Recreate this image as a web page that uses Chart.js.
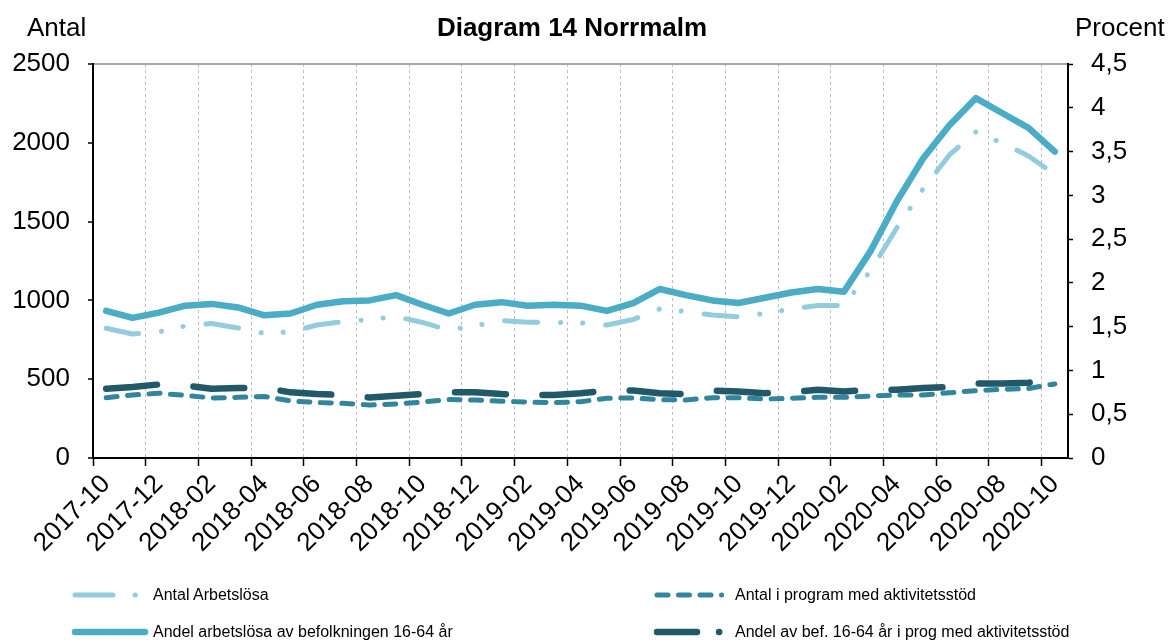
<!DOCTYPE html>
<html>
<head>
<meta charset="utf-8">
<script src="https://cdn.jsdelivr.net/npm/chart.js@4.4.1/dist/chart.umd.min.js"></script>
<style>
  html, body { margin: 0; padding: 0; background: #ffffff; }
  #wrap { position: relative; width: 1170px; height: 643px; font-family: "Liberation Sans", Arial, sans-serif; color: #000; }
  #chart { position: absolute; left: 0; top: 0; }
  .txt { position: absolute; white-space: nowrap; }
  #title { left: 322px; width: 500px; top: 11px; text-align: center; font-weight: bold; font-size: 26px; line-height: 32px; }
  #ylab { left: 27px; top: 11px; font-size: 26px; line-height: 32px; }
  #y1lab { left: 1075px; top: 11px; font-size: 26px; line-height: 32px; }
  .leg { position: absolute; height: 20px; display: flex; align-items: center; font-size: 16px; }
  .leg svg { display: block; }
</style>
</head>
<body>
<div id="wrap">
  <canvas id="chart" width="1170" height="643"></canvas>
  <div class="txt" id="title">Diagram 14 Norrmalm</div>
  <div class="txt" id="ylab">Antal</div>
  <div class="txt" id="y1lab">Procent</div>
</div>
<script>
// ---- data ----
const categories = [
  '2017-10','2017-11','2017-12','2018-01','2018-02','2018-03','2018-04','2018-05','2018-06','2018-07',
  '2018-08','2018-09','2018-10','2018-11','2018-12','2019-01','2019-02','2019-03','2019-04','2019-05',
  '2019-06','2019-07','2019-08','2019-09','2019-10','2019-11','2019-12','2020-01','2020-02','2020-03',
  '2020-04','2020-05','2020-06','2020-07','2020-08','2020-09','2020-10'
];
const antalArbetslosa = [
  823, 787, 800, 838, 853, 825, 791, 800, 844, 865,
  879, 898, 860, 812, 838, 872, 861, 861, 857, 844,
  879, 945, 930, 907, 895, 918, 945, 968, 968, 1187,
  1459, 1707, 1923, 2068, 1999, 1916, 1800
];
const antalProgram = [
  383, 400, 411, 397, 381, 385, 390, 362, 352, 347,
  336, 343, 355, 371, 368, 360, 355, 351, 357, 379,
  381, 370, 368, 383, 382, 374, 379, 385, 385, 393,
  400, 400, 414, 427, 436, 441, 470
];
const andelArbetslosa = [
  1.68, 1.60, 1.66, 1.74, 1.76, 1.72, 1.63, 1.65, 1.75, 1.79,
  1.80, 1.86, 1.75, 1.65, 1.75, 1.78, 1.74, 1.75, 1.74, 1.68,
  1.77, 1.93, 1.86, 1.80, 1.77, 1.83, 1.89, 1.93, 1.90, 2.36,
  2.93, 3.42, 3.80, 4.11, 3.94, 3.77, 3.50
];
const andelProgram = [
  0.79, 0.81, 0.84, 0.83, 0.79, 0.80, 0.80, 0.75, 0.73, 0.72,
  0.69, 0.71, 0.73, 0.75, 0.75, 0.73, 0.72, 0.72, 0.74, 0.77,
  0.77, 0.74, 0.73, 0.77, 0.76, 0.74, 0.75, 0.78, 0.76, 0.78,
  0.78, 0.80, 0.81, 0.85, 0.85, 0.86, 0.89
];
const seriesLabels = [
  'Antal Arbetslösa',
  'Antal i program med aktivitetsstöd',
  'Andel arbetslösa av befolkningen 16-64 år',
  'Andel av bef. 16-64 år i prog med aktivitetsstöd'
];
const leftAxis = { min: 0, max: 2500, step: 500 };
const rightAxis = { min: 0, max: 4.5, step: 0.5 };

// ---- styles ----
const styles = [
  { color: '#93cddd', width: 5,   dash: [33, 23, 0.1, 22, 0.1, 23], axis: 'y',  legDash: '38 22', legLen: 60.2 },
  { color: '#31859c', width: 5,   dash: [11, 10.5],                  axis: 'y',  legDash: '11 10.5', legLen: 64.6 },
  { color: '#4bacc6', width: 6.5, dash: [],                          axis: 'y1', legDash: '',     legLen: 70 },
  { color: '#215968', width: 6.5, dash: [51, 36.5],                  axis: 'y1', legDash: '40 22', legLen: 62.2 }
];
const seriesData = [antalArbetslosa, antalProgram, andelArbetslosa, andelProgram];
const legendPos = [
  { left: 75, top: 585, textLeft: 153 },
  { left: 657, top: 585, textLeft: 735 },
  { left: 75, top: 622, textLeft: 153 },
  { left: 657, top: 622, textLeft: 735 }
];
const FONT = '"Liberation Sans", Arial, sans-serif';
const fmtComma = v => String(Math.round(v * 10) / 10).replace('.', ',');

const datasets = seriesData.map((d, i) => ({
  label: seriesLabels[i],
  data: d,
  yAxisID: styles[i].axis,
  borderColor: styles[i].color,
  backgroundColor: styles[i].color,
  borderWidth: styles[i].width,
  borderDash: styles[i].dash,
  borderCapStyle: 'round',
  borderJoinStyle: 'round',
  pointRadius: 0,
  pointHoverRadius: 0,
  tension: 0,
  fill: false,
  order: [2, 3, 1, 0][i]
}));

new Chart(document.getElementById('chart'), {
  type: 'line',
  data: { labels: categories, datasets },
  options: {
    responsive: false,
    animation: false,
    events: [],
    layout: { padding: { top: 64, left: 0, right: 0, bottom: 0 } },
    plugins: { legend: { display: false }, title: { display: false }, tooltip: { enabled: false } },
    scales: {
      x: {
        type: 'category',
        offset: true,
        grid: {
          offset: true,
          drawOnChartArea: true,
          color: c => (c.index !== undefined && c.index % 2 === 0) ? '#bdbdbd' : 'rgba(0,0,0,0)',
          lineWidth: 1,
          tickColor: c => (c.index !== undefined && c.index % 2 === 0) ? '#000000' : 'rgba(0,0,0,0)',
          tickLength: 8,
          tickWidth: 1.5
        },
        border: { display: true, color: '#000000', width: 2, dash: [3, 3] },
        ticks: {
          autoSkip: false,
          maxRotation: 45,
          minRotation: 45,
          padding: 3,
          color: '#000000',
          font: { family: FONT, size: 26 },
          callback: (v, i) => (i % 2 === 0 ? categories[i] : '')
        },
        afterFit: s => { s.height = 185; }
      },
      y: {
        position: 'left',
        min: leftAxis.min,
        max: leftAxis.max,
        ticks: { stepSize: leftAxis.step, color: '#000000', padding: 18, font: { family: FONT, size: 26 }, callback: v => String(v) },
        grid: {
          drawOnChartArea: true,
          color: c => (c.tick && c.tick.value === leftAxis.max) ? '#a6a6a6' : 'rgba(0,0,0,0)',
          lineWidth: 2,
          tickColor: '#000000',
          tickLength: 5,
          tickWidth: 1.5
        },
        border: { display: true, color: '#000000', width: 2 },
        afterFit: s => { s.width = 93; }
      },
      y1: {
        position: 'right',
        min: rightAxis.min,
        max: rightAxis.max,
        ticks: { stepSize: rightAxis.step, color: '#000000', padding: 18, font: { family: FONT, size: 26 }, callback: v => fmtComma(v) },
        grid: { drawOnChartArea: false, tickColor: '#000000', tickLength: 5, tickWidth: 1.5 },
        border: { display: true, color: '#000000', width: 2 },
        afterFit: s => { s.width = 102; }
      }
    }
  }
});

// ---- HTML legend ----
const wrap = document.getElementById('wrap');
const NS = 'http://www.w3.org/2000/svg';
styles.forEach((st, i) => {
  const p = legendPos[i];
  const sw = document.createElementNS(NS, 'svg');
  sw.setAttribute('width', 78); sw.setAttribute('height', 20);
  sw.style.position = 'absolute'; sw.style.left = (p.left - 4) + 'px'; sw.style.top = p.top + 'px';
  const ln = document.createElementNS(NS, 'line');
  ln.setAttribute('x1', 4); ln.setAttribute('x2', 4 + st.legLen);
  ln.setAttribute('y1', 10); ln.setAttribute('y2', 10);
  ln.setAttribute('stroke', st.color); ln.setAttribute('stroke-width', st.width);
  ln.setAttribute('stroke-linecap', 'round');
  if (st.legDash) ln.setAttribute('stroke-dasharray', st.legDash);
  sw.appendChild(ln);
  wrap.appendChild(sw);
  const t = document.createElement('div');
  t.className = 'leg';
  t.style.left = p.textLeft + 'px'; t.style.top = p.top + 'px';
  t.textContent = seriesLabels[i];
  wrap.appendChild(t);
});
</script>
</body>
</html>
